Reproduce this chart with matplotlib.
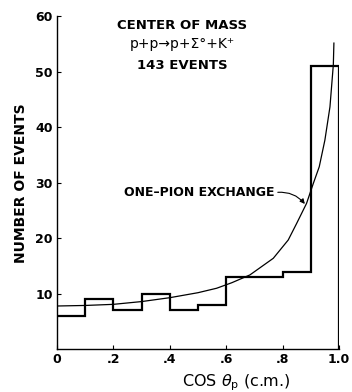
import numpy as np
import matplotlib
matplotlib.use("Agg")
import matplotlib.pyplot as plt

# --- donnees ---
bin_edges = [0.0, 0.1, 0.2, 0.3, 0.4, 0.5, 0.6, 0.7, 0.8, 0.9, 1.0]
counts = [6, 9, 7, 10, 7, 8, 13, 13, 14, 51]

# courbe "one-pion exchange"
curve_x = [0.0, 0.1, 0.2, 0.3, 0.4, 0.5, 0.566, 0.62, 0.684, 0.767, 0.82,
           0.85, 0.885, 0.909, 0.93, 0.95, 0.968, 0.98, 0.982]
curve_y = [7.8, 7.9, 8.1, 8.6, 9.3, 10.2, 11.0, 12.0, 13.4, 16.4, 19.7,
           22.7, 26.3, 29.9, 32.9, 37.7, 43.7, 51.3, 55.2]

xticks = [0, 0.2, 0.4, 0.6, 0.8, 1.0]
xticklabels = ["0", ".2", ".4", ".6", ".8", "1.0"]
yticks = [10, 20, 30, 40, 50, 60]

plt.rcParams['font.family'] = ['DejaVu Sans']

fig = plt.figure(figsize=(3.52, 3.92), dpi=100)
ax = fig.add_axes([0.162, 0.109, 0.801, 0.849])

# histogramme en escalier, ferme a droite jusqu'a zero
hx = [0.0]
hy = [counts[0]]
for i, c in enumerate(counts):
    hx += [bin_edges[i], bin_edges[i + 1]]
    hy += [c, c]
hx.append(bin_edges[-1])
hy.append(0)
ax.plot(hx, hy, color='black', linewidth=1.6, solid_joinstyle='miter')

ax.plot(curve_x, curve_y, color='black', linewidth=0.9)

ax.set_xlim(0, 1.0)
ax.set_ylim(0, 60)
ax.spines['top'].set_visible(False)
ax.spines['right'].set_visible(False)
ax.spines['left'].set_linewidth(1.0)
ax.spines['bottom'].set_linewidth(1.0)

ax.set_xticks(xticks)
ax.set_xticklabels(xticklabels)
ax.set_yticks(yticks)
ax.tick_params(direction='in', length=3, width=0.8, labelsize=9, pad=3)
for lab in ax.get_xticklabels() + ax.get_yticklabels():
    lab.set_fontweight('bold')

ax.set_ylabel("NUMBER OF EVENTS", fontsize=10, fontweight='bold', labelpad=5)
ax.text(0.635, -0.1, r"COS $\theta_{\mathrm{p}}$ (c.m.)", transform=ax.transAxes,
        ha='center', va='center', fontsize=11.5)

ax.text(0.443, 0.974, "CENTER OF MASS", transform=ax.transAxes,
        ha='center', va='center', fontsize=9.5, fontweight='bold')
ax.text(0.443, 0.918, "p+p\u2192p+\u03a3\u00b0+K\u207a", transform=ax.transAxes,
        ha='center', va='center', fontsize=10)
ax.text(0.443, 0.854, "143 EVENTS", transform=ax.transAxes,
        ha='center', va='center', fontsize=9.5, fontweight='bold')

ax.text(0.773, 28.3, "ONE\u2013PION EXCHANGE", ha='right', va='center',
        fontsize=9, fontweight='bold')
ax.annotate("", xy=(0.879, 26.2), xytext=(0.783, 28.3),
            arrowprops=dict(arrowstyle='-|>', color='black', linewidth=0.8,
                            connectionstyle='arc3,rad=-0.25', mutation_scale=7,
                            shrinkA=0, shrinkB=0))

fig.savefig("out.png", dpi=100)
